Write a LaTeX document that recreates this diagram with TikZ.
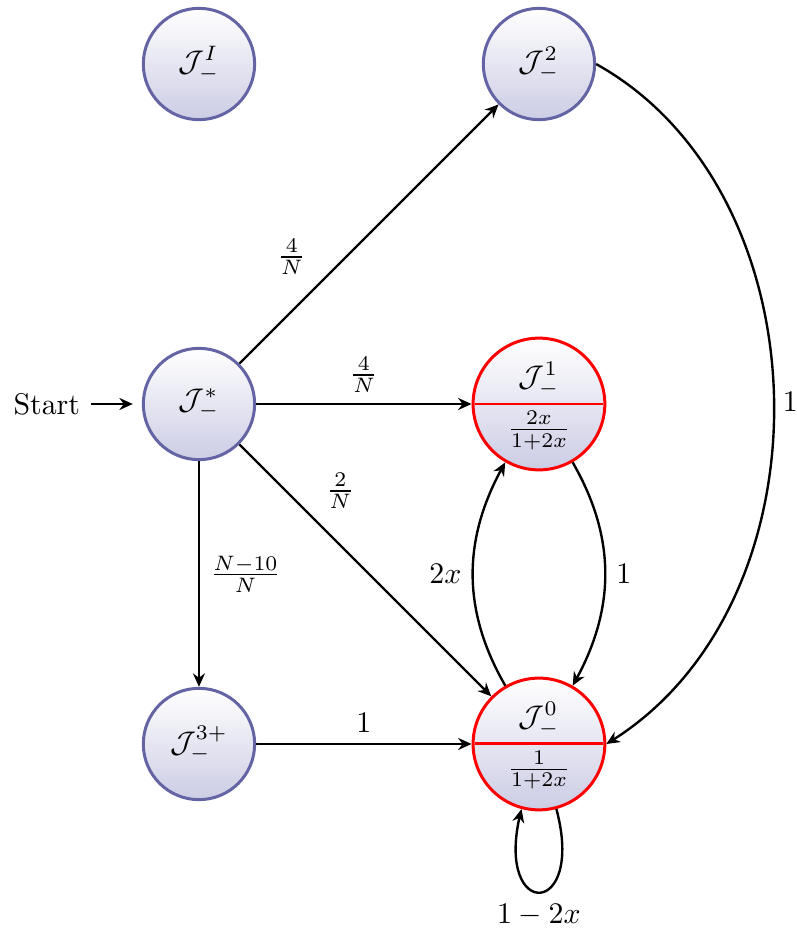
\documentclass[tikz,border=0pt]{standalone}
\usepackage{amsmath,amssymb}
\usepackage{xcolor}
\usetikzlibrary{arrows.meta,shapes.multipart,bending}
\definecolor{stateborder}{RGB}{100,100,165}
\definecolor{statefill}{RGB}{204,204,229}

\begin{document}
\begin{tikzpicture}[node distance=4cm, thick, >={Stealth[length=4.5pt,width=4pt]},
    jstate/.style={circle, draw=stateborder, line width=1pt, top color=white, bottom color=statefill, minimum size=1.31cm},
    jsplit/.style={circle split, draw=red, line width=1pt, top color=white, bottom color=statefill, inner sep=2pt, minimum size=1.55cm}]
    \useasboundingbox (-2.341,-6.165) rectangle (7.035,4.753);

    \node[jstate] (jstar) {$\mathcal{J}^*_-$};
    \node[jstate, above of=jstar] (jI) {$\mathcal{J}^I_-$};
    \node[jstate, right of=jI] (j2) {$\mathcal{J}^2_-$};
    \node[jsplit, right of=jstar] (j1) {$\mathcal{J}^1_-$ \nodepart{lower} $\frac{2x}{1+2x}$};
    \node[jstate, below of=jstar] (j3) {$\mathcal{J}^{3+}_-$};
    \node[jsplit, right of=j3] (j0) {$\mathcal{J}^0_-$ \nodepart{lower} $\frac{1}{1+2x}$};
    \node[left of=jstar, node distance=1.79cm] (start) {Start};

    \draw[->, shorten >=3pt] (start) -- (jstar);
    \draw[->] (jstar) -- node[pos=0.3, above left] {$\frac{4}{N}$} (j2);
    \draw[->] (jstar) -- node[above] {$\frac{4}{N}$} (j1);
    \draw[->] (jstar) -- node[pos=0.3, above right] {$\frac{2}{N}$} (j0);
    \draw[->] (jstar) -- node[right] {$\frac{N-10}{N}$} (j3);
    \draw[->] (j3) -- node[above] {$1$} (j0);
    \draw[->] (j1) to[bend left=30] node[right] {$1$} (j0);
    \draw[->] (j0) to[bend left=30] node[left] {$2x$} (j1);
    \draw[->] (j2.east) to[bend left=60] node[right, inner sep=2.5pt] {$1$} (j0.east);
    \draw[->] (j0) to[out=-75, in=-105, looseness=8.5] node[below] {$1-2x$} (j0);
\end{tikzpicture}
\end{document}
